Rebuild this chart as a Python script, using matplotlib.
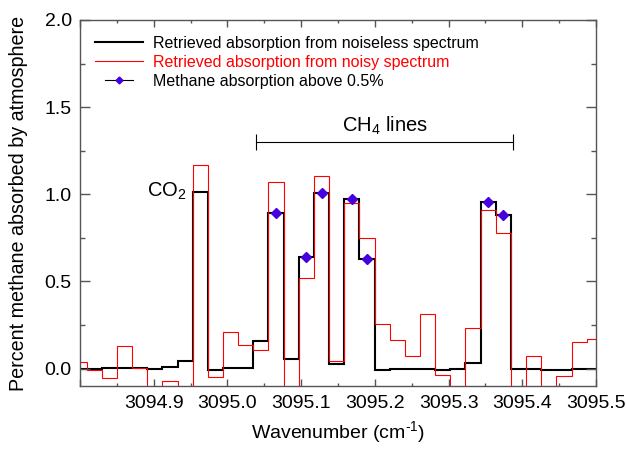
import numpy as np
import matplotlib
matplotlib.use('Agg')
import matplotlib.pyplot as plt
from matplotlib.lines import Line2D
from matplotlib.legend_handler import HandlerLine2D
from matplotlib.ticker import MultipleLocator, FuncFormatter

plt.rcParams['font.family'] = ['Liberation Sans', 'DejaVu Sans']
plt.rcParams['mathtext.fontset'] = 'custom'
plt.rcParams['mathtext.rm'] = 'Liberation Sans'
plt.rcParams['mathtext.it'] = 'Liberation Sans:italic'
plt.rcParams['mathtext.bf'] = 'Liberation Sans:bold'

# Spectral bin edges (cm^-1)
edges = np.array([
    3094.7885, 3094.8090, 3094.8296, 3094.8501, 3094.8707, 3094.8912,
    3094.9118, 3094.9323, 3094.9529, 3094.9735, 3094.9940, 3095.0146,
    3095.0351, 3095.0557, 3095.0763, 3095.0968, 3095.1174, 3095.1379,
    3095.1585, 3095.1790, 3095.1996, 3095.2201, 3095.2407, 3095.2612,
    3095.2818, 3095.3024, 3095.3229, 3095.3435, 3095.3640, 3095.3846,
    3095.4051, 3095.4257, 3095.4462, 3095.4668, 3095.4873, 3095.5079,
])

# Retrieved absorption (percent) per bin
noiseless = np.array([
    -0.005, -0.005, 0.004, 0.004, 0.004, 0.000, 0.008, 0.045,
    1.015, -0.006, 0.002, 0.006, 0.159, 0.895, 0.057, 0.640,
    1.010, 0.027, 0.972, 0.629, -0.008, 0.000, -0.002, -0.004,
    -0.006, -0.002, 0.030, 0.953, 0.883, 0.000, -0.002, -0.006,
    -0.006, -0.004, -0.002,
])
noisy = np.array([
    0.036, -0.011, -0.053, 0.128, 0.004, -0.150, -0.069, -0.150,
    1.169, -0.050, 0.208, 0.134, 0.109, 1.068, -0.150, 0.520,
    1.106, 0.042, 0.950, 0.752, 0.254, 0.162, 0.070, 0.311,
    -0.034, -0.150, 0.233, 0.911, 0.778, -0.150, 0.070, -0.150,
    -0.044, 0.153, 0.172,
])

ch4_range = (3095.039, 3095.388)
threshold = 0.5
xmin, xmax = 3094.8, 3095.5

centers = 0.5 * (edges[:-1] + edges[1:])
is_ch4 = (centers > ch4_range[0]) & (centers < ch4_range[1]) & (noiseless > threshold)

fig = plt.figure(figsize=(6.26, 4.49), dpi=100)
ax = fig.add_axes([0.1278, 0.1403, 0.8243, 0.8152])

ax.stairs(noiseless, edges, baseline=None, color='black', lw=1.5)
ax.stairs(noisy, edges, baseline=None, color='red', lw=0.8)
ax.plot(centers[is_ch4], noiseless[is_ch4], ls='none', marker='D',
        ms=5.5, color='#4400DD')

# CH4 bracket and labels
yb = 1.30
ax.plot(ch4_range, [yb, yb], color='black', lw=0.8)
ax.vlines(ch4_range, yb - 0.045, yb + 0.045, color='black', lw=0.8)
ax.text(np.mean(ch4_range), 1.36, r'CH$_\mathregular{4}$ lines',
        ha='center', va='baseline', fontsize=14.5)
ax.text(3094.944, 0.987, r'CO$_\mathregular{2}$', ha='right',
        va='baseline', fontsize=14.5)

ax.set_xlim(xmin, xmax)
ax.set_ylim(-0.1, 2.0)
ax.xaxis.set_major_locator(MultipleLocator(0.1))
ax.xaxis.set_minor_locator(MultipleLocator(0.05))
ax.yaxis.set_major_locator(MultipleLocator(0.5))
ax.yaxis.set_minor_locator(MultipleLocator(0.25))
# no label on the leftmost tick
ax.xaxis.set_major_formatter(
    FuncFormatter(lambda v, p: '' if v < xmin + 0.01 else f'{v:.1f}'))
ax.yaxis.set_major_formatter(plt.FormatStrFormatter('%.1f'))

for s in ax.spines.values():
    s.set_color('#555555')
    s.set_linewidth(1.0)
ax.tick_params(which='both', direction='in', top=True, right=True,
               colors='#555555', labelcolor='black', labelsize=14, width=1.0)
ax.tick_params(axis='x', which='major', length=5, pad=6.5)
ax.tick_params(axis='x', which='minor', length=2.5)
ax.tick_params(axis='y', which='major', length=7, pad=6)
ax.tick_params(axis='y', which='minor', length=3.5)

ax.set_xlabel('Wavenumber (cm$^\\mathregular{\u20101}$)', fontsize=14, labelpad=5)
ax.set_ylabel('Percent methane absorbed by atmosphere', fontsize=14.2)
ax.yaxis.set_label_coords(-0.10, 0.5)


class ShortHandler(HandlerLine2D):
    def create_artists(self, legend, orig_handle, xdescent, ydescent,
                       width, height, fontsize, trans):
        shrink = 0.2 * width
        return super().create_artists(legend, orig_handle, xdescent - shrink,
                                      ydescent, width - 2 * shrink, height,
                                      fontsize, trans)


h_clean = Line2D([], [], color='black', lw=1.5)
h_noisy = Line2D([], [], color='red', lw=0.8)
h_ch4 = Line2D([], [], color='black', lw=0.8, marker='D', ms=3.5,
               markerfacecolor='#4400DD', markeredgecolor='#4400DD')
leg = ax.legend([h_clean, h_noisy, h_ch4],
                ['Retrieved absorption from noiseless spectrum',
                 'Retrieved absorption from noisy spectrum',
                 'Methane absorption above 0.5%'],
                handler_map={h_ch4: ShortHandler()},
                loc='upper left', bbox_to_anchor=(0.029, 0.956),
                frameon=False, fontsize=11.5, borderpad=0, borderaxespad=0,
                handlelength=3.0, handletextpad=0.63, labelspacing=0.25)
leg.get_texts()[1].set_color('red')

fig.savefig('out.png', dpi=100)
